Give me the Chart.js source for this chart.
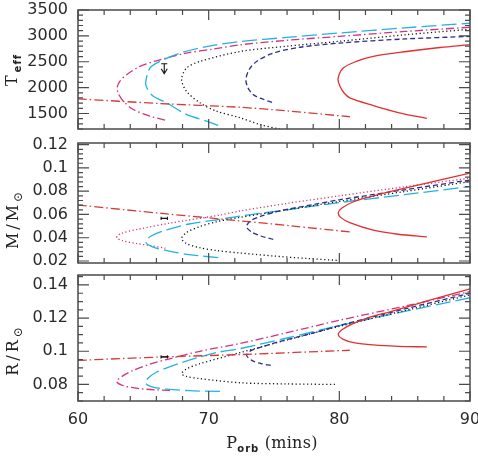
<!DOCTYPE html>
<html><head><meta charset="utf-8">
<script src="https://cdn.jsdelivr.net/npm/chart.js@4/dist/chart.umd.min.js"></script>
<style>
html,body{margin:0;padding:0;background:#fff;overflow:hidden;width:478px;height:456px;}
#wrap{position:relative;width:478px;height:456px;overflow:hidden;}
canvas{position:absolute;left:0;}
.ttl{position:absolute;font-family:"DejaVu Serif",serif;font-size:16px;color:#222;white-space:nowrap;line-height:20px;}
.rot{transform:translate(-50%,-50%) rotate(-90deg);letter-spacing:3px;}
.hor{transform:translate(-50%,-50%);letter-spacing:0.3px;}
.sub{font-family:"DejaVu Sans",sans-serif;font-weight:bold;font-size:10px;position:relative;top:4px;letter-spacing:1px;}
.sun{font-size:12px;position:relative;top:4px;}
</style></head>
<body><div id="wrap">
<canvas id="c1" width="490" height="169" style="top:-15px"></canvas>
<canvas id="c2" width="490" height="168" style="top:120px"></canvas>
<canvas id="c3" width="490" height="201" style="top:255px"></canvas>
<div class="ttl rot" style="left:13px;top:70px">T<span class="sub">eff</span></div>
<div class="ttl rot" style="left:13px;top:219px">M/M<span class="sun">⊙</span></div>
<div class="ttl rot" style="left:13px;top:350px">R/R<span class="sun">⊙</span></div>
<div class="ttl hor" style="left:272px;top:444px">P<span class="sub">orb</span>&nbsp;(mins)</div>
</div>
<script>
// ---------- tick labels ----------
const periodTicks = [60, 70, 80, 90];
const teffTicks = [1500, 2000, 2500, 3000, 3500];
const massTicks = [0.02, 0.04, 0.06, 0.08, 0.1, 0.12];
const radiusTicks = [0.08, 0.1, 0.12, 0.14];

// ---------- observed point (period, Teff upper limit, mass, radius) ----------
const obsPeriod = [66.6];
const obsPeriodErr = [0.24];
const obsTeffLimit = [2461];
const obsMass = [0.0566];
const obsRadius = [0.0966];

// ---------- Teff tracks [P_orb, Teff] ----------
const teffRed = [[86.7,1404],[84.6,1513],[82.6,1654],[80.8,1801],[80.35,1900],[80.05,2026],[79.9,2170],[80.3,2378],[81.3,2506],[82.6,2603],[85.15,2698],[87.7,2775],[90,2830]];
const teffNavy = [[74.85,1715],[74.0,1790],[73.4,1865],[73.0,2000],[72.85,2154],[73.1,2350],[73.67,2506],[74.94,2667],[77,2780],[80,2860],[85,2940],[90,2990]];
const teffBlack = [[75.45,1195],[73.9,1288],[72.4,1417],[70.6,1545],[69.33,1706],[68.3,1929],[67.93,2154],[68.3,2378],[69.33,2506],[72.4,2698],[76,2800],[80,2895],[85,3020],[90,3128]];
const teffCyan = [[70.73,1269],[69.85,1352],[68.3,1481],[66.78,1706],[65.76,1833],[65.3,1980],[65.18,2100],[65.5,2378],[66.27,2506],[67.8,2667],[69.85,2794],[72.4,2891],[76,2970],[80,3055],[85,3155],[90,3244]];
const teffMagenta = [[66.66,1371],[65.5,1449],[64.23,1577],[63.47,1737],[63.1,1880],[63.0,1994],[63.2,2120],[63.72,2250],[64.74,2410],[66.0,2519],[68.3,2667],[70.35,2744],[72.4,2827],[76,2915],[80,2990],[85,3085],[90,3167]];
const teffRedDD = [[60,1783],[66.27,1692],[72.4,1620],[76,1550],[80.81,1437]];

// ---------- mass tracks [P_orb, M/Msun] ----------
const massRed = [[86.7,0.0408],[84.5,0.0430],[82.6,0.0465],[80.8,0.0530],[80.1,0.0575],[79.92,0.0615],[80.2,0.0655],[81,0.0705],[82.3,0.0750],[83.87,0.0796],[87,0.0878],[90,0.0955]];
const massNavy = [[74.94,0.0385],[74.0,0.0415],[73.3,0.0448],[72.9,0.0494],[73.2,0.0545],[74,0.0585],[75.5,0.0632],[78,0.0685],[80,0.0726],[85,0.0812],[90,0.0896]];
const massBlack = [[79.8,0.0206],[77.5,0.0222],[75,0.0243],[72.4,0.0269],[70.6,0.0290],[69.3,0.0315],[68.3,0.0350],[67.93,0.0395],[68.3,0.0445],[69.3,0.0495],[70.6,0.0537],[72.4,0.0575],[76,0.0640],[80,0.0712],[85,0.0797],[90,0.0883]];
const massCyan = [[70.73,0.0229],[68.5,0.0255],[66.8,0.0290],[65.7,0.0322],[65.18,0.0364],[65.6,0.0415],[66.8,0.0468],[68.5,0.0518],[70.86,0.0558],[72.4,0.0586],[76,0.0640],[80,0.0702],[85,0.0770],[90,0.0840]];
const massMagenta = [[66.7,0.0310],[65.5,0.0333],[64.5,0.0350],[63.4,0.0375],[62.96,0.0402],[63.3,0.0437],[64.7,0.0475],[67,0.0525],[70.86,0.0595],[72.4,0.0630],[76,0.0695],[80,0.0760],[85,0.0838],[90,0.0912]];
const massRedDD = [[60,0.0681],[66.6,0.0607],[72.4,0.0545],[76.5,0.0500],[80.8,0.0450]];

// ---------- radius tracks [P_orb, R/Rsun] ----------
const radRed = [[86.7,0.1026],[84.5,0.1030],[82.6,0.1038],[81.2,0.1050],[80.3,0.1072],[79.92,0.1101],[80.2,0.1130],[81,0.1165],[82.3,0.1205],[83.87,0.1238],[87,0.1310],[90,0.1376]];
const radNavy = [[74.75,0.0915],[74.0,0.0926],[73.3,0.0945],[72.9,0.0976],[73.2,0.1002],[74,0.1025],[75.5,0.1060],[78,0.1110],[80,0.1155],[85,0.1255],[90,0.1350]];
const radBlack = [[79.66,0.0800],[76,0.0803],[72.4,0.0810],[69.33,0.0835],[68.3,0.0848],[67.93,0.0865],[68.3,0.0893],[69.33,0.0925],[72.4,0.0992],[76,0.1068],[80,0.1150],[85,0.1245],[90,0.1340]];
const radCyan = [[70.86,0.0758],[68.5,0.0762],[66.8,0.0772],[65.6,0.0787],[65.13,0.0810],[65.4,0.0840],[66.02,0.0875],[68.06,0.0935],[70.6,0.0992],[72.4,0.1016],[76,0.1080],[80,0.1155],[85,0.1240],[90,0.1323]];
const radMagenta = [[67.04,0.0764],[66,0.0767],[64.7,0.0775],[63.5,0.0792],[62.96,0.0818],[63.4,0.0850],[64.23,0.0885],[65.5,0.0922],[66.78,0.0950],[69.33,0.1000],[72.4,0.1047],[76,0.1112],[80,0.1187],[85,0.1272],[90,0.1360]];
const radRedDD = [[60,0.0945],[66.6,0.0966],[72.4,0.0980],[80.8,0.1006]];

// ---------- styles ----------
const ST = {
  red:     {color:'#e0302f', dash:[]},
  navy:    {color:'#2b2d8f', dash:[5,3]},
  black:   {color:'#111111', dash:[1.2,2.6]},
  cyan:    {color:'#22b2e3', dash:[15,5]},
  magenta: {color:'#d5327f', dash:[8,3,1.5,3]},
  magDot:  {color:'#d5327f', dash:[1.2,2.4]},
  redDD:   {color:'#d43c3a', dash:[9,3,1.5,3]}
};
const FONT = {family:'"DejaVu Sans", sans-serif', size:16};

const frameTicks = {
  id:'frameTicks',
  afterDatasetsDraw(chart, args, o){
    const {ctx, chartArea:a, scales:{x,y}} = chart;
    ctx.save();
    ctx.strokeStyle = '#4a4a4a';
    ctx.lineWidth = 1.2;
    ctx.beginPath();
    const xk0 = Math.ceil(x.min/2 - 1e-6), xk1 = Math.floor(x.max/2 + 1e-6);
    for (let k=xk0;k<=xk1;k++){
      const px = x.getPixelForValue(k*2);
      const L = (k%5===0) ? 10 : 5;
      ctx.moveTo(px,a.bottom); ctx.lineTo(px,a.bottom-L);
      ctx.moveTo(px,a.top); ctx.lineTo(px,a.top+L);
    }
    const yk0 = Math.ceil(y.min/o.minor - 1e-6), yk1 = Math.floor(y.max/o.minor + 1e-6);
    for (let k=yk0;k<=yk1;k++){
      const py = y.getPixelForValue(k*o.minor);
      const L = (k%o.ratio===0) ? 11 : 5;
      ctx.moveTo(a.left,py); ctx.lineTo(a.left+L,py);
      ctx.moveTo(a.right,py); ctx.lineTo(a.right-L,py);
    }
    ctx.stroke();
    ctx.lineWidth = 1.5;
    ctx.strokeRect(a.left, a.top, a.right-a.left, a.bottom-a.top);
    // observed point
    ctx.strokeStyle = '#111'; ctx.lineWidth = 1.1;
    ctx.beginPath();
    if (o.mark === 'arrow'){
      const px = x.getPixelForValue(obsPeriod[0]);
      const py = y.getPixelForValue(obsTeffLimit[0]);
      ctx.moveTo(px-3,py); ctx.lineTo(px+3,py);
      ctx.moveTo(px,py); ctx.lineTo(px,py+10);
      ctx.moveTo(px-3,py+5); ctx.lineTo(px,py+10); ctx.lineTo(px+3,py+5);
    } else if (o.mark){
      const val = o.mark === 'mass' ? obsMass[0] : obsRadius[0];
      const x0 = x.getPixelForValue(obsPeriod[0]-obsPeriodErr[0]);
      const x1 = x.getPixelForValue(obsPeriod[0]+obsPeriodErr[0]);
      const py = y.getPixelForValue(val);
      ctx.moveTo(x0,py); ctx.lineTo(x1,py);
      ctx.moveTo(x0,py-1.7); ctx.lineTo(x0,py+1.7);
      ctx.moveTo(x1,py-1.7); ctx.lineTo(x1,py+1.7);
    }
    ctx.stroke();
    ctx.restore();
  }
};

function ds(pts, st){
  return {data:pts.map(p=>({x:p[0],y:p[1]})), borderColor:st.color, borderDash:st.dash,
          borderWidth:1.3, showLine:true, pointRadius:0, tension:0.3, fill:false};
}

function makeChart(id, c){
  return new Chart(document.getElementById(id), {
    type:'scatter',
    data:{datasets:c.sets},
    options:{
      responsive:false, animation:false, events:[],
      layout:{padding:{left:0,right:20,top:c.padTop,bottom:c.padBottom}},
      plugins:{legend:{display:false}, tooltip:{enabled:false},
               frameTicks:{minor:c.minor, ratio:c.ratio, mark:c.mark}},
      scales:{
        x:{type:'linear', min:60, max:90, display:c.showX,
           grid:{display:false, drawTicks:false}, border:{display:false},
           ticks:{padding:9, font:FONT, color:'#2a2a2a', autoSkip:false, maxRotation:0},
           afterBuildTicks:s=>{s.ticks = periodTicks.map(v=>({value:v}));},
           afterFit:s=>{ if (c.showX) s.height=30; }},
        y:{type:'linear', min:c.min, max:c.max,
           grid:{display:false, drawTicks:false}, border:{display:false},
           ticks:{padding:10, font:FONT, color:'#2a2a2a', autoSkip:false, callback:v=>String(v)},
           afterBuildTicks:s=>{s.ticks = c.ticks.map(v=>({value:v}));},
           afterFit:s=>{s.width=78;}}
      }
    },
    plugins:[frameTicks]
  });
}

makeChart('c1', {min:1200, max:3500, ticks:teffTicks, minor:100, ratio:5, padTop:25, padBottom:25, showX:false, mark:'arrow',
  sets:[ds(teffRedDD,ST.redDD), ds(teffRed,ST.red), ds(teffNavy,ST.navy), ds(teffBlack,ST.black), ds(teffCyan,ST.cyan), ds(teffMagenta,ST.magenta)]});
makeChart('c2', {min:0.0183, max:0.1214, ticks:massTicks, minor:0.004, ratio:5, padTop:23, padBottom:25, showX:false, mark:'mass',
  sets:[ds(massRedDD,ST.redDD), ds(massRed,ST.red), ds(massNavy,ST.navy), ds(massBlack,ST.black), ds(massCyan,ST.cyan), ds(massMagenta,ST.magDot)]});
makeChart('c3', {min:0.07, max:0.146, ticks:radiusTicks, minor:0.005, ratio:4, padTop:20, padBottom:25, showX:true, mark:'radius',
  sets:[ds(radRedDD,ST.redDD), ds(radRed,ST.red), ds(radNavy,ST.navy), ds(radBlack,ST.black), ds(radCyan,ST.cyan), ds(radMagenta,ST.magenta)]});
</script>
</body></html>
